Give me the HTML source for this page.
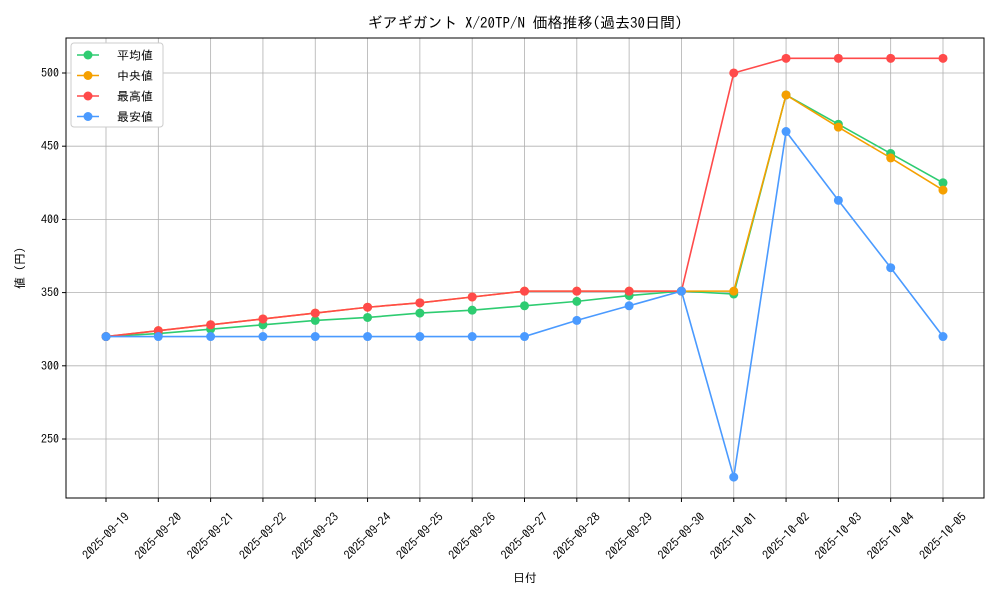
<!DOCTYPE html>
<html><head><meta charset="utf-8"><style>
body{margin:0;background:#fff}
svg{display:block;font-family:"IPAGothic","Liberation Mono","Noto Sans CJK JP",monospace}
</style></head><body>
<svg id="c" width="1000" height="600"></svg>
<script>
const dates=["2025-09-19","2025-09-20","2025-09-21","2025-09-22","2025-09-23","2025-09-24","2025-09-25","2025-09-26","2025-09-27","2025-09-28","2025-09-29","2025-09-30","2025-10-01","2025-10-02","2025-10-03","2025-10-04","2025-10-05"];
const avgVals=[320,322,325,328,331,333,336,338,341,344,348,351,349,485,465,445,425];
const medVals=[320,324,328,332,336,340,343,347,351,351,351,351,351,485,463,442,420];
const maxVals=[320,324,328,332,336,340,343,347,351,351,351,351,500,510,510,510,510];
const minVals=[320,320,320,320,320,320,320,320,320,331,341,351,224,460,413,367,320];
const yTicks=[250,300,350,400,450,500];
const seriesNames=["平均値","中央値","最高値","最安値"];
const ns="http://www.w3.org/2000/svg",svg=document.getElementById("c");
const L=66,R=984,T=38,B=498,yMin=209.7,yMax=523.9;
const xs=i=>106+i*(943-106)/(dates.length-1);
const ys=v=>B-(v-yMin)/(yMax-yMin)*(B-T);
function el(t,a,p){const e=document.createElementNS(ns,t);for(const k in a)e.setAttribute(k,a[k]);(p||svg).appendChild(e);return e;}
dates.forEach((d,i)=>{const g=el("line",{x1:xs(i),x2:xs(i),y1:T,y2:B,stroke:"#b0b0b0","stroke-width":0.8});


el("line",{x1:xs(i),x2:xs(i),y1:B,y2:B+4,stroke:"#000"});
const cx=xs(i),cy=536;
const t=el("text",{x:cx,y:cy+4,"font-size":12,"text-anchor":"middle",transform:`rotate(-45 ${cx} ${cy})`});t.textContent=d;

});
yTicks.forEach(v=>{const g=el("line",{x1:L,x2:R,y1:ys(v),y2:ys(v),stroke:"#b0b0b0","stroke-width":0.8});


el("line",{x1:L-4,x2:L,y1:ys(v),y2:ys(v),stroke:"#000"});
const t=el("text",{x:L-7,y:ys(v)+4,"font-size":12,"text-anchor":"end"});t.textContent=v;

});
const frame=el("rect",{x:L,y:T,width:R-L,height:B-T,fill:"none",stroke:"#000","stroke-width":1});


const colors=["#2ecc71","#f5a000","#ff4a4a","#4a9aff"];
[avgVals,medVals,maxVals,minVals].forEach((vals,s)=>{
const g=el("g",{});


el("polyline",{points:vals.map((v,i)=>xs(i)+","+ys(v)).join(" "),fill:"none",stroke:colors[s],"stroke-width":1.6},g);
vals.forEach((v,i)=>{const c=el("circle",{cx:xs(i),cy:ys(v),r:4.5,fill:colors[s]},g);

});});
const lg=el("g",{});


el("rect",{x:71,y:43,width:92,height:84,rx:3,fill:"#fff",stroke:"#ccc"},lg);
seriesNames.forEach((n,i)=>{const y=55+i*20.5;
el("line",{x1:77,x2:99,y1:y,y2:y,stroke:colors[i],"stroke-width":1.6},lg);
el("circle",{cx:88,cy:y,r:4.5,fill:colors[i]},lg);
const t=el("text",{x:117,y:y+4.5,"font-size":12},lg);t.textContent=n;

});
const title=el("text",{x:525,y:28,"font-size":15,"text-anchor":"middle"});title.textContent="ギアギガント X/20TP/N 価格推移(過去30日間)";


const xt=el("text",{x:525,y:582,"font-size":12,"text-anchor":"middle"});xt.textContent="日付";


const yt=el("text",{x:24,y:268,"font-size":12,"text-anchor":"middle",transform:"rotate(-90 24 268)"});yt.textContent="値 (円)";


</script>
</body></html>
